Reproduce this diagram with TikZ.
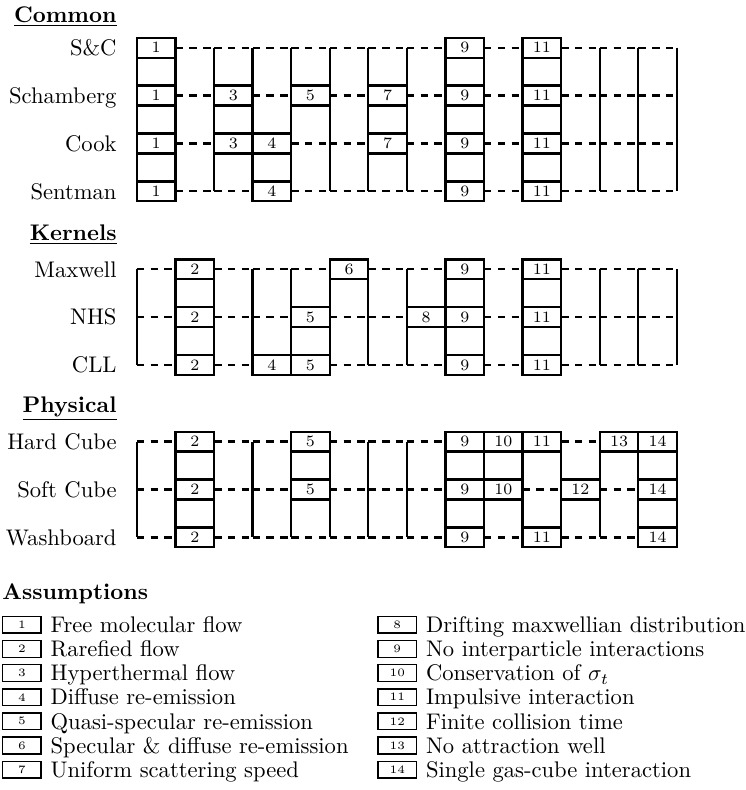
\documentclass[tikz,border=0pt]{standalone}
\usepackage{amsmath}
\usepackage{tikz}
\usetikzlibrary{positioning}

\begin{document}
\begin{tikzpicture}
  \useasboundingbox (0,0) rectangle (11.60,-12.29);
  \tikzset{cell/.style={draw,line width=1pt,fill=white,minimum width=0.6cm,minimum height=0.31cm,inner sep=0pt,font=\scriptsize},
           rail/.style={line width=1pt,dash pattern=on 3.3pt off 2.8pt},
           bar/.style={line width=1pt},
           rowlabel/.style={anchor=east,inner sep=0pt,text height=6.8pt,text depth=0pt},
           heading/.style={anchor=base east,inner sep=0pt,font=\bfseries},
           key/.style={draw,semithick,minimum width=0.6cm,minimum height=0.26cm,inner sep=0pt,font=\tiny},
           keytext/.style={inner sep=0pt,text height=6.8pt,text depth=0pt}}

 % common models
  \node[heading] (common) at (1.82,-0.35) {\underline{Common}};
  \node[rowlabel] (sc) at (1.82,-0.742) {S\&C};
  \node[rowlabel] (schamberg) at (1.82,-1.487) {Schamberg};
  \node[rowlabel] (cook) at (1.82,-2.232) {Cook};
  \node[rowlabel] (sentman) at (1.82,-2.977) {Sentman};
  \foreach \y in {-0.742,-1.487,-2.232,-2.977}
    \foreach \k in {0,...,13}
      \draw[rail] ({2.13+0.6*\k},\y) -- ({2.73+0.6*\k},\y);
  \foreach \k/\t/\b in {0/1/1,1/1/1,2/0/0,3/0/1,4/0/1,5/0/0,6/0/0,7/0/0,
                        8/1/1,9/1/1,10/1/1,11/1/1,12/0/0,13/0/0,14/0/0}
    \draw[bar] ({2.13+0.6*\k},{-0.742+0.155*\t}) -- ({2.13+0.6*\k},{-2.977-0.155*\b});
  \foreach \r/\y/\cols in {1/-0.742/{1,9,11},2/-1.487/{1,3,5,7,9,11},
                           3/-2.232/{1,3,4,7,9,11},4/-2.977/{1,4,9,11}}
    \foreach \c in \cols
      \node[cell] (com-\r-\c) at ({1.83+0.6*\c},\y) {\c};

 % scattering kernels
  \node[heading] (kernels) at (1.82,-3.74) {\underline{Kernels}};
  \node[rowlabel] (maxwell) at (1.82,-4.19) {Maxwell};
  \node[rowlabel] (nhs) at (1.82,-4.935) {NHS};
  \node[rowlabel] (cll) at (1.82,-5.68) {CLL};
  \foreach \y in {-4.19,-4.935,-5.68}
    \foreach \k in {0,...,13}
      \draw[rail] ({2.13+0.6*\k},\y) -- ({2.73+0.6*\k},\y);
  \foreach \k/\t/\b in {0/0/0,1/1/1,2/1/1,3/0/1,4/0/1,5/1/1,6/1/0,7/0/0,
                        8/1/1,9/1/1,10/1/1,11/1/1,12/0/0,13/0/0,14/0/0}
    \draw[bar] ({2.13+0.6*\k},{-4.19+0.155*\t}) -- ({2.13+0.6*\k},{-5.68-0.155*\b});
  \foreach \r/\y/\cols in {1/-4.19/{2,6,9,11},2/-4.935/{2,5,8,9,11},
                           3/-5.68/{2,4,5,9,11}}
    \foreach \c in \cols
      \node[cell] (ker-\r-\c) at ({1.83+0.6*\c},\y) {\c};

 % physical models
  \node[heading] (physical) at (1.82,-6.41) {\underline{Physical}};
  \node[rowlabel] (hard) at (1.82,-6.87) {Hard Cube};
  \node[rowlabel] (soft) at (1.82,-7.615) {Soft Cube};
  \node[rowlabel] (wash) at (1.82,-8.36) {Washboard};
  \foreach \y in {-6.87,-7.615,-8.36}
    \foreach \k in {0,...,13}
      \draw[rail] ({2.13+0.6*\k},\y) -- ({2.73+0.6*\k},\y);
  \foreach \k/\t/\b in {0/0/0,1/1/1,2/1/1,3/0/0,4/1/0,5/1/0,6/0/0,7/0/0,
                        8/1/1,9/1/1,10/1/1,11/1/1,12/1/0,13/1/1,14/1/1}
    \draw[bar] ({2.13+0.6*\k},{-6.87+0.155*\t}) -- ({2.13+0.6*\k},{-8.36-0.155*\b});
  \foreach \r/\y/\cols in {1/-6.87/{2,5,9,10,11,13,14},2/-7.615/{2,5,9,10,12,14},
                           3/-8.36/{2,9,11,14}}
    \foreach \c in \cols
      \node[cell] (phy-\r-\c) at ({1.83+0.6*\c},\y) {\c};

 % legend
  \node[anchor=base west,inner sep=0pt,font=\bfseries] (assumptions) at (0.03,-9.33) {Assumptions};
  \foreach \n/\txt [count=\i from 0] in {1/Free molecular flow,2/Rarefied flow,
      3/Hyperthermal flow,4/Diffuse re-emission,5/Quasi-specular re-emission,
      6/Specular \& diffuse re-emission,7/Uniform scattering speed}
  {
    \node[key] (key\n) at (0.34,{-9.72-0.3755*\i}) {\n};
    \node[keytext,right=0.13cm of key\n] (txt\n) {\txt};
  }
  \foreach \n/\txt [count=\i from 0] in {8/Drifting maxwellian distribution,
      9/No interparticle interactions,10/Conservation of $\sigma_t$,
      11/Impulsive interaction,12/Finite collision time,13/No attraction well,
      14/Single gas-cube interaction}
  {
    \node[key] (key\n) at (6.18,{-9.72-0.3755*\i}) {\n};
    \node[keytext,right=0.13cm of key\n] (txt\n) {\txt};
  }
\end{tikzpicture}
\end{document}
